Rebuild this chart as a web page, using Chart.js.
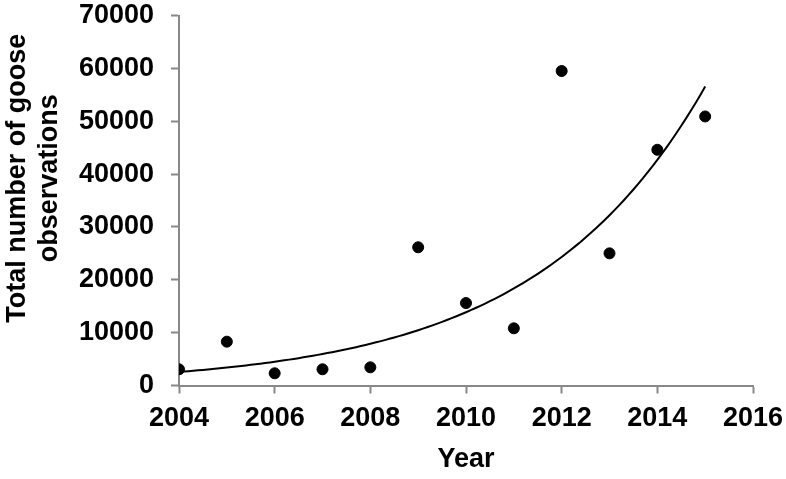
<!DOCTYPE html>
<html>
<head>
<meta charset="utf-8">
<script src="https://cdn.jsdelivr.net/npm/chart.js@4/dist/chart.umd.min.js"></script>
<style>
  html, body { margin: 0; padding: 0; background: #fff; }
  #wrap { width: 786px; height: 479px; }
</style>
</head>
<body>
<div id="wrap"><canvas id="gooseChart" width="786" height="479"></canvas></div>
<script>
// --- Data ---
const years = [2004, 2005, 2006, 2007, 2008, 2009, 2010, 2011, 2012, 2013, 2014, 2015];
const observations = [3070, 8290, 2310, 3070, 3440, 26150, 15600, 10820, 59500, 25000, 44600, 50900];

const xTicks = [2004, 2006, 2008, 2010, 2012, 2014, 2016];
const yTicks = [0, 10000, 20000, 30000, 40000, 50000, 60000, 70000];

const xTitle = 'Year';
const yTitle = ['Total number of goose', 'observations'];

const axisGrey = '#888888';
const fontFamily = '"Liberation Sans", Arial, sans-serif';
const tickFont = { family: fontFamily, size: 27, weight: 'bold', lineHeight: 1.15 };

// --- Exponential trendline (least squares on ln y, like Excel) ---
function expFit(xs, ys) {
    const n = xs.length;
    const lx = xs.map(x => x - xs[0]);
    const ly = ys.map(y => Math.log(y));
    const mx = lx.reduce((a, b) => a + b, 0) / n;
    const my = ly.reduce((a, b) => a + b, 0) / n;
    let sxy = 0, sxx = 0;
    for (let i = 0; i < n; i++) {
        sxy += (lx[i] - mx) * (ly[i] - my);
        sxx += (lx[i] - mx) * (lx[i] - mx);
    }
    const b = sxy / sxx;
    const a = Math.exp(my - b * mx);
    return x => a * Math.exp(b * (x - xs[0]));
}

const trend = expFit(years, observations);
const trendPoints = [];
for (let i = 0; i <= 110; i++) {
    const x = years[0] + i * (years[years.length - 1] - years[0]) / 110;
    trendPoints.push({ x: x, y: trend(x) });
}

const points = years.map((y, i) => ({ x: y, y: observations[i] }));

// --- Rotated two-line y title, sitting a bit above the plot centre like the original ---
const yTitlePlugin = {
    id: 'yTitle',
    afterDraw(chart) {
        const c = chart.ctx;
        const area = chart.chartArea;
        c.save();
        c.font = 'bold 27px ' + fontFamily;
        c.fillStyle = '#000';
        c.textAlign = 'center';
        c.textBaseline = 'alphabetic';
        c.translate(25, area.top + (area.bottom - area.top) * 0.44);
        c.rotate(-Math.PI / 2);
        yTitle.forEach((line, i) => c.fillText(line, 0, i * 32));
        c.restore();
    }
};

// --- Chart ---
const ctx = document.getElementById('gooseChart').getContext('2d');
new Chart(ctx, {
    type: 'scatter',
    data: {
        datasets: [
            {
                label: 'Observations',
                data: points,
                backgroundColor: '#000',
                borderColor: '#000',
                pointRadius: 5.5,
                pointHoverRadius: 5.5
            },
            {
                label: 'Expon. trend',
                data: trendPoints,
                showLine: true,
                borderColor: '#000',
                borderWidth: 2,
                pointRadius: 0,
                tension: 0,
                fill: false
            }
        ]
    },
    plugins: [yTitlePlugin],
    options: {
        responsive: false,
        animation: false,
        layout: { padding: 0 },
        plugins: {
            legend: { display: false },
            tooltip: { enabled: false }
        },
        scales: {
            x: {
                type: 'linear',
                min: xTicks[0],
                max: xTicks[xTicks.length - 1],
                afterBuildTicks: axis => { axis.ticks = xTicks.map(v => ({ value: v })); },
                afterFit: axis => {
                    axis.height = 93.5;
                    axis.paddingLeft = 0;
                    axis.paddingRight = 33;
                },
                border: { color: axisGrey, width: 2 },
                grid: { drawOnChartArea: false, drawTicks: true, tickLength: 8, tickColor: axisGrey, tickWidth: 2 },
                ticks: {
                    color: '#000',
                    font: tickFont,
                    padding: 10,
                    maxRotation: 0,
                    callback: v => String(v)
                },
                title: {
                    display: true,
                    text: xTitle,
                    color: '#000',
                    font: { family: fontFamily, size: 27, weight: 'bold', lineHeight: 1.2 },
                    padding: { top: 0, bottom: 3 }
                }
            },
            y: {
                type: 'linear',
                min: yTicks[0],
                max: yTicks[yTicks.length - 1],
                afterBuildTicks: axis => { axis.ticks = yTicks.map(v => ({ value: v })); },
                afterFit: axis => {
                    axis.width = 179;
                    axis.paddingTop = 15.5;
                    axis.paddingBottom = 0;
                },
                border: { color: axisGrey, width: 2 },
                grid: { drawOnChartArea: false, drawTicks: true, tickLength: 8, tickColor: axisGrey, tickWidth: 2 },
                ticks: {
                    color: '#000',
                    font: tickFont,
                    padding: 17,
                    callback: v => String(v)
                }
            }
        }
    }
});
</script>
</body>
</html>
